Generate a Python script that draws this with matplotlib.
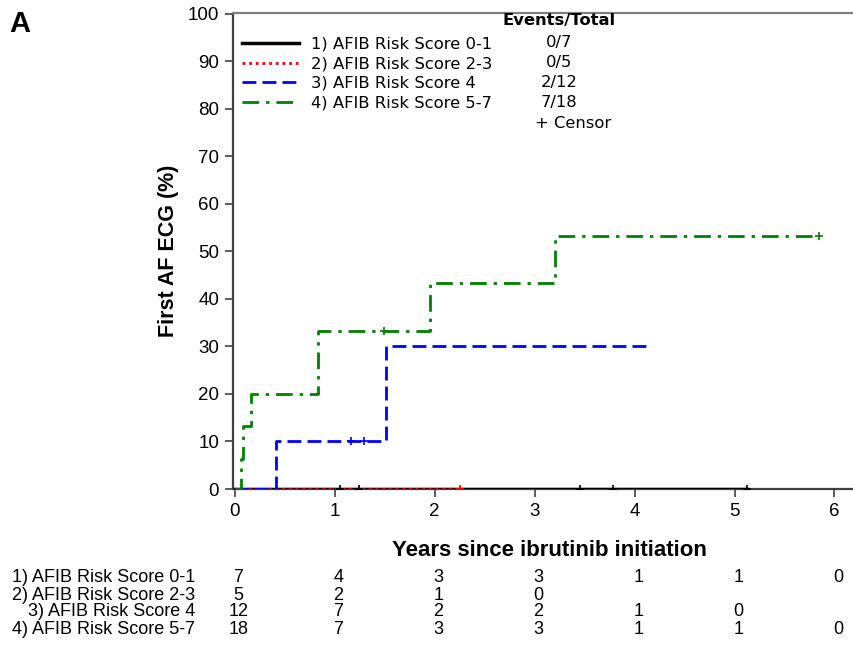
import matplotlib
matplotlib.use('Agg')
import matplotlib.pyplot as plt
import matplotlib.transforms as mtransforms

# ---------------- data ----------------
group_labels = ['1) AFIB Risk Score 0-1', '2) AFIB Risk Score 2-3',
                '3) AFIB Risk Score 4', '4) AFIB Risk Score 5-7']
events_total = ['0/7', '0/5', '2/12', '7/18']

g1_t = [0, 5.13]
g1_y = [0, 0]
g1_cens = [1.05, 1.24, 3.45, 3.78, 5.13]

g2_t = [0, 2.25]
g2_y = [0, 0]
g2_cens = [2.25]

g3_t = [0, 0.41, 1.51, 4.13]
g3_y = [0, 10, 30, 30]
g3_cens_t = [1.16, 1.29]
g3_cens_y = [10, 10]

g4_t = [0, 0.06, 0.08, 0.16, 0.83, 1.95, 3.2, 5.85]
g4_y = [0, 6.3, 13.3, 20, 33.3, 43.3, 53.3, 53.3]
g4_cens_t = [1.49, 5.85]
g4_cens_y = [33.3, 53.3]

risk_times = [0, 1, 2, 3, 4, 5, 6]
risk_g1 = [7, 4, 3, 3, 1, 1, 0]
risk_g2 = [5, 2, 1, 0]
risk_g3 = [12, 7, 2, 2, 1, 0]
risk_g4 = [18, 7, 3, 3, 1, 1, 0]

xticks = [0, 1, 2, 3, 4, 5, 6]
yticks = [0, 10, 20, 30, 40, 50, 60, 70, 80, 90, 100]

# ---------------- figure ----------------
W, H = 854, 645
fig = plt.figure(figsize=(W / 100, H / 100), dpi=100)
ax_left, ax_right, ax_top, ax_bottom = 233, 856, 13, 489
ax = fig.add_axes([ax_left / W, 1 - ax_bottom / H,
                   (ax_right - ax_left) / W, (ax_bottom - ax_top) / H])
ax.set_xlim(-0.015, 6.215)
ax.set_ylim(0, 100.2)

lw = 2.0
colors = ['black', '#ff0000', '#0000ff', '#008000']
styles = ['-', (0, (1, 1.4)), (0, (5, 2.2)), (0, (6, 2.5, 1.2, 2.5))]

l1, = ax.step(g1_t, g1_y, where='post', color=colors[0], lw=lw + 0.5, ls=styles[0],
              zorder=3)
l2, = ax.step(g2_t, g2_y, where='post', color=colors[1], lw=lw, ls=styles[1], zorder=4)
l3, = ax.step(g3_t, g3_y, where='post', color=colors[2], lw=lw, ls=styles[2], zorder=4)
l4, = ax.step(g4_t, g4_y, where='post', color=colors[3], lw=lw, ls=styles[3], zorder=4)

ms = 6
ax.plot(g1_cens, [0] * len(g1_cens), ls='none', marker='+', color=colors[0], ms=ms, mew=1.2, zorder=5)
ax.plot(g2_cens, [0] * len(g2_cens), ls='none', marker='+', color=colors[1], ms=ms, mew=1.2, zorder=5)
ax.plot(g3_cens_t, g3_cens_y, ls='none', marker='+', color=colors[2], ms=ms, mew=1.2, zorder=5)
ax.plot(g4_cens_t, g4_cens_y, ls='none', marker='+', color=colors[3], ms=ms, mew=1.2, zorder=5)

# spines / ticks
for s in ['left', 'top', 'bottom']:
    ax.spines[s].set_color('#404040')
    ax.spines[s].set_linewidth(1.6)
ax.spines['right'].set_visible(False)
ax.spines['top'].set_color('#808080')
ax.set_xticks(xticks)
ax.set_yticks(yticks)
tick_font = dict(family='Liberation Sans', size=13.5)
ax.set_xticklabels([str(v) for v in xticks], fontdict=tick_font)
ax.set_yticklabels([str(v) for v in yticks], fontdict=tick_font)
ax.tick_params(axis='both', direction='out', length=6, width=1.2, color='#404040', pad=4)

ax.set_ylabel('First AF ECG (%)', family='Liberation Sans', fontsize=15.5,
              fontweight='bold', labelpad=6)

# legend
leg_fs = 11.8
leg = ax.legend([l1, l2, l3, l4], group_labels, loc='upper left',
                bbox_to_anchor=((243 - ax_left - 1) / (ax_right - ax_left), 1 - (37 - ax_top) / (ax_bottom - ax_top)),
                frameon=False, prop=dict(family='DejaVu Sans', size=leg_fs),
                handlelength=3.5, handletextpad=0.7, labelspacing=0.27,
                borderaxespad=0, borderpad=0)

def fpx(x, y):
    return x / W, 1 - y / H

ev_x = 559
fig.text(*fpx(ev_x, 21), 'Events/Total', ha='center', va='center',
         family='DejaVu Sans', fontsize=leg_fs, fontweight='bold')
for i, et in enumerate(events_total):
    fig.text(*fpx(ev_x, 43 + i * 20), et, ha='center', va='center',
             family='DejaVu Sans', fontsize=leg_fs)
fig.text(*fpx(573, 124), '+ Censor', ha='center', va='center',
         family='DejaVu Sans', fontsize=leg_fs)

# panel letter
fig.text(*fpx(20, 24), 'A', ha='center', va='center', family='Liberation Sans',
         fontsize=21, fontweight='bold')

# x label
fig.text(*fpx(549, 551), 'Years since ibrutinib initiation', ha='center', va='center',
         family='Liberation Sans', fontsize=16, fontweight='bold')

# number at risk table
blend = mtransforms.blended_transform_factory(ax.transData, fig.transFigure)
row_y = [578, 595, 612, 630]
risk_rows = [risk_g1, risk_g2, risk_g3, risk_g4]
tab_fs = 13
for lab, yy, row in zip(group_labels, row_y, risk_rows):
    fig.text(*fpx(195, yy), lab, ha='right', va='center', family='Liberation Sans',
             fontsize=tab_fs)
    for t, n in zip(risk_times, row):
        ax.text(t + 0.04, 1 - yy / H, str(n), transform=blend, ha='center', va='center',
                family='Liberation Sans', fontsize=tab_fs, clip_on=False)

fig.savefig('out.png', dpi=100)
